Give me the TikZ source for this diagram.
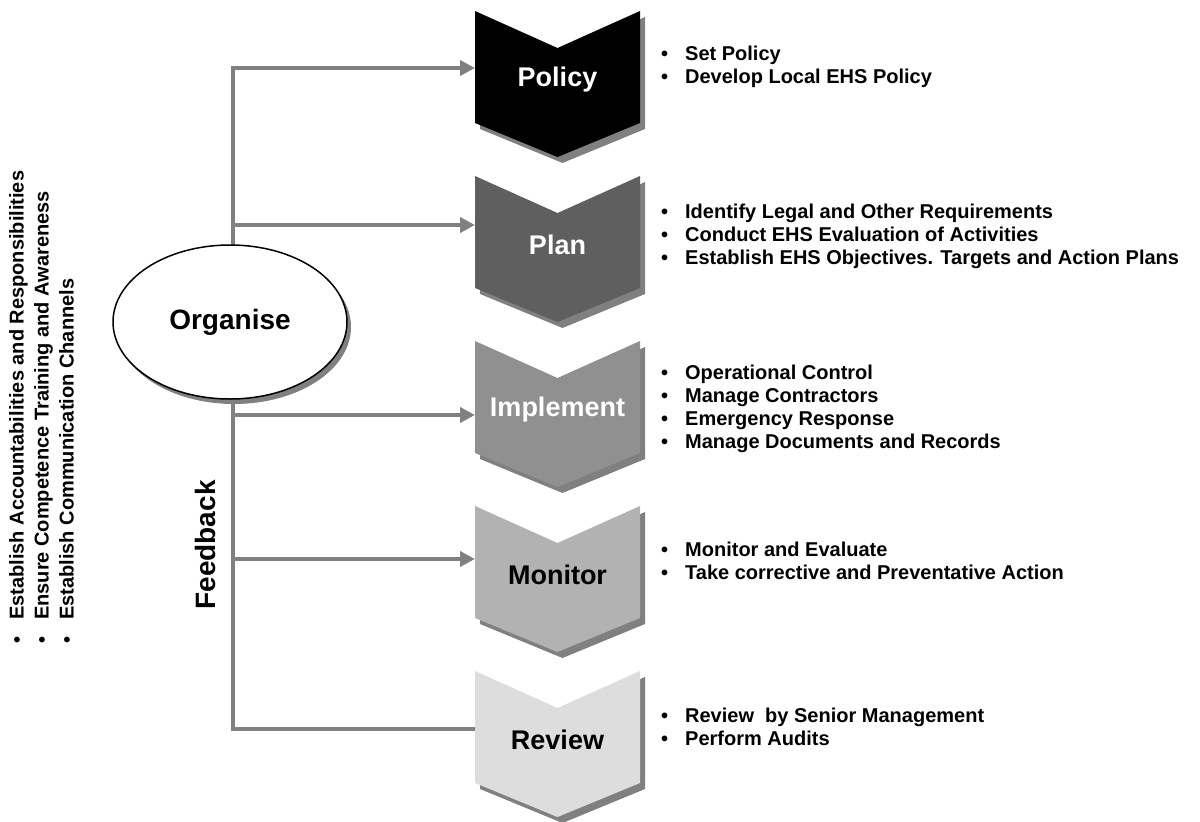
\documentclass[tikz,border=0pt]{standalone}
\usepackage{fontspec}
\setmainfont{Liberation Sans}
\usepackage{tikz}
\usetikzlibrary{arrows.meta,shapes.geometric,shadows}

\definecolor{linegray}{HTML}{808080}
\definecolor{shadegray}{HTML}{808080}
\definecolor{chevB}{HTML}{5F5F5F}
\definecolor{chevC}{HTML}{909090}
\definecolor{chevD}{HTML}{B2B2B2}
\definecolor{chevE}{HTML}{DDDDDD}

\newcommand{\itm}[1]{\makebox[24pt][l]{\textbullet}#1}

\tikzset{
  chev/.style={drop shadow={shadow xshift=5pt,shadow yshift=-6pt,fill=shadegray,opacity=1}},
  feed/.style={draw=linegray,line width=4pt},
  tip/.style={-{Triangle[length=15pt,width=15pt]}},
  items/.style={font=\fontsize{20}{23}\selectfont\bfseries,align=left,inner sep=0pt,anchor=base west},
  big/.style={font=\fontsize{27}{30}\selectfont\bfseries}
}

\begin{document}
\begin{tikzpicture}[x=1pt,y=-1pt]
\useasboundingbox (0,0) rectangle (1200,822);

\foreach \t/\name/\shade/\txt/\tcol in {11/policy/black/Policy/white,176/plan/chevB/Plan/white,341/implement/chevC/Implement/white,506/monitor/chevD/Monitor/black,671/review/chevE/Review/black} {
\fill[chev,fill=\shade] (475,\t)--(557.5,\t+37)--(640,\t)--(640,\t+112)--(557.5,\t+146)--(475,\t+112)--cycle;
\node[big,text=\tcol] (\name) at (557.5,\t+69) {\txt};
}

\foreach \name/\y in {policy/68,plan/225,implement/415,monitor/559,review/729} {
\coordinate (t-\name) at (233,\y);
\coordinate (\name-in) at (475,\y);
}

\draw[feed,{Triangle[length=15pt,width=15pt]}-] (policy-in)--(t-policy)--(t-review)--(review-in);
\foreach \name in {plan,implement,monitor} {
\draw[feed,tip] (t-\name)--(\name-in);
}

\node[ellipse,draw,line width=1.5pt,fill=white,minimum width=234pt,minimum height=154pt,
  drop shadow={shadow xshift=4pt,shadow yshift=-5pt,fill=shadegray,opacity=1},
  font=\fontsize{28}{30}\selectfont\bfseries] (organise) at (230,322) {Organise};

\node[rotate=90,font=\fontsize{28}{30}\selectfont\bfseries] (feedback) at (205,545) {Feedback};

\node[items,rotate=90,anchor=north west,font=\fontsize{20}{25}\selectfont\bfseries] (roles) at (9,644)
  {\itm{Establish Accountabilities and Responsibilities}\\
   \itm{Ensure Competence Training and Awareness}\\
   \itm{Establish Communication Channels}};

\node[items] (policy-list) at (661,83)
  {\itm{Set Policy}\\ \itm{Develop Local EHS Policy}};
\node[items] (plan-list) at (661,264)
  {\itm{Identify Legal and Other Requirements}\\
   \itm{Conduct EHS Evaluation of Activities}\\
   \itm{Establish EHS Objectives. Targets and Action Plans}};
\node[items] (implement-list) at (661,448)
  {\itm{Operational Control}\\ \itm{Manage Contractors}\\
   \itm{Emergency Response}\\ \itm{Manage Documents and Records}};
\node[items] (monitor-list) at (661,579)
  {\itm{Monitor and Evaluate}\\ \itm{Take corrective and Preventative Action}};
\node[items] (review-list) at (661,745)
  {\itm{Review\ \ by Senior Management}\\ \itm{Perform Audits}};
\end{tikzpicture}
\end{document}
